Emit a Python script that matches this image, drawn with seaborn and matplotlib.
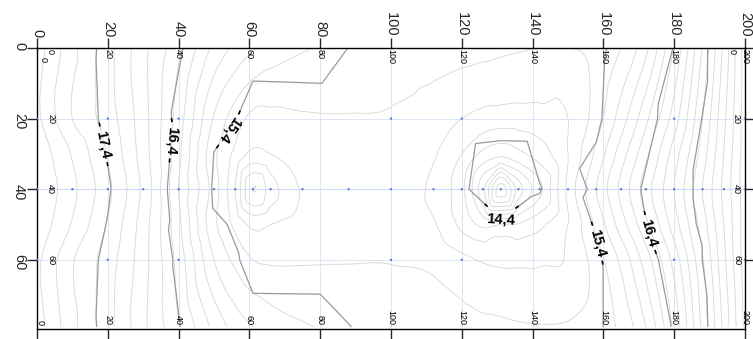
import numpy as np
import matplotlib
matplotlib.use("Agg")
import matplotlib.pyplot as plt
import matplotlib.tri as mtri
from matplotlib.patches import PathPatch, Circle
import seaborn as sns

# Survey grid: node positions (x along the section, y = depth) and measured values
x_nodes = [0, 10, 20, 30, 40, 50, 56, 61, 66, 75, 88, 100, 112, 120, 126,
           131, 136, 142, 150, 158, 165, 172, 180, 188, 194, 200]
y_nodes = [0, 20, 30, 40, 50, 60, 79]

row_y0 = [18.10, 17.66, 17.27, 16.86, 16.45, 15.95, 15.75, 15.62, 15.52, 15.42, 15.34, 15.30, 15.28,
          15.27, 15.26, 15.24, 15.22, 15.20, 15.20, 15.24, 15.40, 15.75, 16.42, 17.22, 17.85, 18.50]
row_y20 = [18.05, 17.60, 17.30, 16.88, 16.30, 15.58, 15.30, 15.15, 15.15, 15.18, 15.19, 15.18, 15.10,
           15.00, 14.93, 14.90, 14.90, 14.92, 15.00, 15.30, 15.70, 16.15, 16.70, 17.40, 17.95, 18.50]
row_y30 = [18.15, 17.78, 17.38, 16.90, 16.25, 15.45, 15.15, 14.95, 15.00, 15.08, 15.12, 15.12, 15.02,
           14.80, 14.55, 14.45, 14.55, 14.70, 15.00, 15.45, 15.90, 16.35, 16.90, 17.50, 18.00, 18.50]
row_y40 = [18.20, 17.85, 17.45, 16.95, 16.20, 15.50, 15.00, 14.40, 14.70, 15.02, 15.12, 15.12, 14.95,
           14.65, 14.05, 13.30, 13.90, 14.35, 15.05, 15.60, 16.05, 16.50, 17.00, 17.60, 18.05, 18.50]
row_y50 = [18.15, 17.78, 17.38, 16.90, 16.25, 15.45, 15.15, 14.95, 15.00, 15.08, 15.12, 15.12, 15.02,
           14.75, 14.55, 14.60, 14.62, 14.75, 15.00, 15.45, 15.90, 16.35, 16.90, 17.50, 18.00, 18.50]
row_y60 = [18.05, 17.62, 17.30, 16.88, 16.32, 15.60, 15.35, 15.20, 15.17, 15.18, 15.19, 15.19, 15.15,
           15.05, 14.98, 14.95, 14.95, 14.97, 15.02, 15.30, 15.65, 16.10, 16.68, 17.38, 17.95, 18.50]
row_y79 = [18.10, 17.66, 17.27, 16.85, 16.42, 15.95, 15.72, 15.60, 15.50, 15.42, 15.36, 15.32, 15.29,
           15.27, 15.25, 15.24, 15.22, 15.21, 15.22, 15.30, 15.45, 15.80, 16.45, 17.25, 17.85, 18.45]

# Coarse nodes used for the labelled (linear) isolines
coarse_x = [0, 20, 40, 61, 100, 120, 131, 142, 158, 180, 200]
coarse_y = [0, 20, 40, 50, 60, 79]

major_levels = [14.4, 15.4, 16.4, 17.4]
minor_step = 0.2
label_spots = [(17.8, 27.5), (36.2, 26.0), (54.0, 23.0), (130.8, 48.7), (156.0, 55.8), (170.0, 53.0)]

tick_vals_x = [0, 20, 40, 60, 80, 100, 120, 140, 160, 180, 200]
tick_vals_y = [0, 20, 40, 60]

sns.set_style("white")
plt.rcParams["font.family"] = ["Liberation Sans", "DejaVu Sans"]

rows = [row_y0, row_y20, row_y30, row_y40, row_y50, row_y60, row_y79]
Z = np.array(rows, dtype=float)
XX, YY = np.meshgrid(np.array(x_nodes, float), np.array(y_nodes, float))

tri_full = mtri.Triangulation(XX.ravel(), YY.ravel())
z_full = Z.ravel()
refiner = mtri.UniformTriRefiner(tri_full)
interp = mtri.CubicTriInterpolator(tri_full, z_full, kind="geom")
tri_fine, z_fine = refiner.refine_field(z_full, triinterpolator=interp, subdiv=4)

ix = [x_nodes.index(v) for v in coarse_x]
iy = [y_nodes.index(v) for v in coarse_y]
Zc = Z[np.ix_(iy, ix)]
XC, YC = np.meshgrid(np.array(coarse_x, float), np.array(coarse_y, float))
tri_coarse = mtri.Triangulation(XC.ravel(), YC.ravel())

fig = plt.figure(figsize=(7.53, 3.39), dpi=100)
ax = fig.add_axes([37 / 753, 1 - 329 / 339, (745 - 37) / 753, (329 - 48) / 339])
ax.set_xlim(0, 200)
ax.set_ylim(79.6, 0)

# faint reference grid
grid_c = "#dce5f7"
for v in tick_vals_x[1:-1]:
    ax.axvline(v, color=grid_c, lw=0.7, zorder=0)
for v in tick_vals_y[1:]:
    ax.axhline(v, color="#cfdcf5" if v == 40 else grid_c, lw=0.8 if v == 40 else 0.7, zorder=0)

# minor isolines
zmax = float(Z.max())
lv = major_levels[0] - minor_step * 6
minor_levels = []
while lv < zmax + 0.3:
    minor_levels.append(round(lv, 2))
    lv += minor_step
ax.tricontour(tri_fine, z_fine, levels=minor_levels, colors="#d9d9d9", linewidths=0.65, zorder=1)

# labelled isolines
cs = ax.tricontour(tri_coarse, Zc.ravel(), levels=major_levels, colors="#9a9a9a", linewidths=0.9, zorder=2)
lbls = ax.clabel(cs, levels=major_levels, manual=label_spots, inline=True, inline_spacing=4,
                 fmt=lambda v: f"{v:.1f}".replace(".", ","), fontsize=10.5, colors="black")
for t in lbls:
    t.set_fontweight("bold")
    r = t.get_rotation()
    if r > 180:
        r -= 360
    if r > 30:
        t.set_rotation(r - 180)

# darker stubs of the labelled isolines on both sides of each label
for t in lbls:
    cx, cy = t.get_position()
    for p in cs.get_paths():
        if len(p.vertices) == 0:
            continue
        stub = PathPatch(p, fill=False, edgecolor="black", lw=1.2, zorder=2.5)
        ax.add_patch(stub)
        stub.set_clip_path(Circle((cx, cy), 6.3, transform=ax.transData))

# survey nodes
node_x, node_y = [], []
for yv in (20, 40, 60):
    for xv in x_nodes:
        if yv == 40 or xv % 20 == 0:
            node_x.append(xv)
            node_y.append(yv)
sns.scatterplot(x=node_x, y=node_y, ax=ax, s=3, color="#5a7fd0", edgecolor="none", zorder=3)

# axes and ticks
for sp in ax.spines.values():
    sp.set_color("black")
    sp.set_linewidth(1.0)
ax.set_xticks(tick_vals_x)
ax.set_yticks(tick_vals_y)
ax.set_xticklabels([str(v) for v in tick_vals_x])
ax.set_yticklabels([str(v) for v in tick_vals_y])
ax.tick_params(axis="x", top=True, bottom=True, labeltop=True, labelbottom=False,
               direction="out", length=7, width=1, labelsize=10.5, labelrotation=270, pad=1)
ax.tick_params(axis="y", left=True, right=True, labelleft=True, labelright=False,
               direction="out", length=7, width=1, labelsize=10.5, labelrotation=270, pad=1)

# small inside scale labels
small = dict(fontsize=6.5, rotation=270, color="black", zorder=4)
for v in tick_vals_x:
    ax.text(v + (3.8 if v == 0 else 0), 0.3, str(v), ha="center", va="top", **small)
    ax.text(v + (0.8 if v == 0 else 0), 78.6, str(v), ha="center", va="bottom", **small)
for v in tick_vals_y:
    ax.text(0.4 if v == 0 else 2.6, v + (3.2 if v == 0 else 0), str(v), ha="left", va="center", **small)
    ax.text(197.6, v + (0.9 if v == 0 else 0), str(v), ha="right" if v == 0 else "center", va="center", **small)

ax.set_xlabel("")
ax.set_ylabel("")
fig.savefig("out.png", dpi=100)
